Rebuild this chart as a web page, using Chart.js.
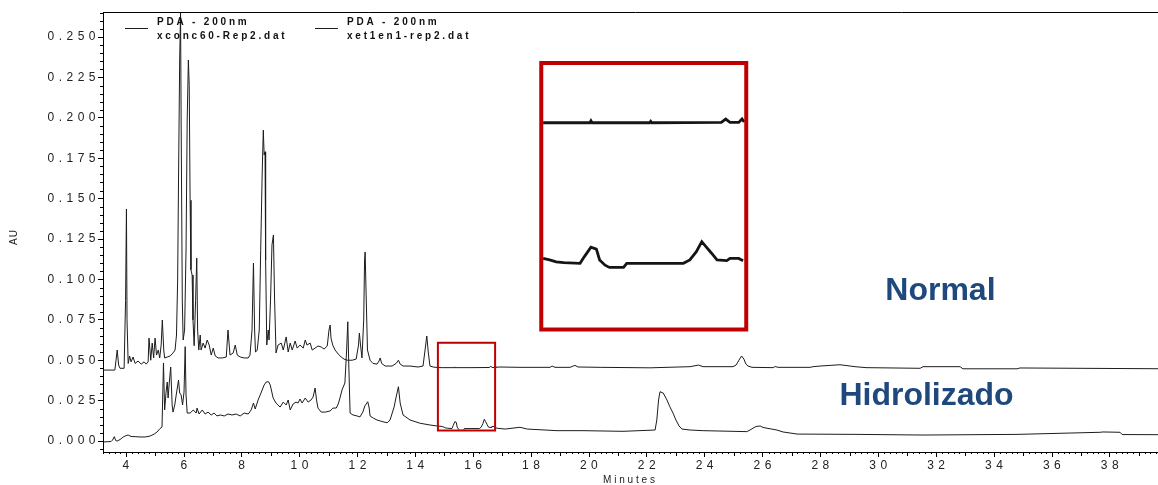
<!DOCTYPE html>
<html>
<head>
<meta charset="utf-8">
<script src="https://cdn.jsdelivr.net/npm/chart.js@4.4.1/dist/chart.umd.min.js"></script>
<style>
  html, body { margin: 0; padding: 0; background: #fff; overflow: hidden; }
  #wrap { position: relative; width: 1180px; height: 485px; }
</style>
</head>
<body>
<div id="wrap"><canvas id="chromChart"></canvas></div>
<script>
// Retention time (min) and absorbance (AU) for both runs, PDA 200 nm
const normalTime = [
  3.205, 3.61, 3.65, 3.69, 3.74, 3.79, 3.93, 3.98, 4.01, 4.03, 4.07, 4.12, 4.17, 4.24, 4.31, 4.41,
  4.52, 4.62, 4.69, 4.76, 4.79, 4.85, 4.90, 4.95, 5.00, 5.05, 5.11, 5.16, 5.21, 5.25, 5.30, 5.33,
  5.42, 5.52, 5.62, 5.69, 5.74, 5.78, 5.81, 5.85, 5.88, 5.90, 5.94, 5.97, 6.02, 6.07, 6.11, 6.15,
  6.18, 6.21, 6.24, 6.28, 6.31, 6.35, 6.40, 6.44, 6.47, 6.51, 6.56, 6.59, 6.66, 6.73, 6.80, 6.87,
  6.94, 7.01, 7.08, 7.18, 7.32, 7.46, 7.52, 7.59, 7.70, 7.77, 7.84, 7.94, 8.08, 8.22, 8.28, 8.35,
  8.40, 8.44, 8.47, 8.53, 8.60, 8.65, 8.70, 8.74, 8.77, 8.80, 8.82, 8.86, 8.91, 8.94, 8.99, 9.04,
  9.09, 9.13, 9.18, 9.25, 9.36, 9.43, 9.53, 9.60, 9.67, 9.74, 9.84, 9.91, 10.01, 10.12, 10.19, 10.25,
  10.36, 10.43, 10.53, 10.63, 10.74, 10.84, 10.95, 11.01, 11.05, 11.08, 11.14, 11.22, 11.33, 11.43, 11.53, 11.64,
  11.81, 11.95, 12.03, 12.06, 12.10, 12.15, 12.21, 12.24, 12.26, 12.29, 12.34, 12.43, 12.53, 12.67, 12.74, 12.78,
  12.83, 12.95, 13.19, 13.33, 13.41, 13.47, 13.57, 13.81, 14.09, 14.26, 14.33, 14.39, 14.44, 14.50, 14.61, 14.75,
  14.92, 15.35, 15.36, 15.37, 15.90, 15.91, 15.92, 16.56, 16.60, 16.64, 16.72, 16.75, 16.77, 16.92, 17.61, 18.65,
  18.72, 18.82, 19.34, 19.45, 19.51, 19.62, 20.38, 22.11, 23.49, 23.78, 23.94, 24.97, 25.08, 25.18, 25.27, 25.35,
  25.42, 25.49, 25.63, 26.36, 26.43, 26.53, 27.64, 27.74, 27.98, 28.33, 28.67, 29.02, 29.19, 29.57, 31.44, 31.54,
  32.82, 32.92, 34.79, 34.89, 40.0
];
const normalAU = [
  0.0439, 0.0439, 0.0500, 0.0563, 0.0470, 0.0450, 0.0450, 0.0870, 0.1436, 0.0750, 0.0480, 0.0526, 0.0490, 0.0520, 0.0480, 0.0495,
  0.0476, 0.0490, 0.0476, 0.0490, 0.0637, 0.0500, 0.0606, 0.0514, 0.0637, 0.0532, 0.0563, 0.0514, 0.0594, 0.0749, 0.0563, 0.0514,
  0.0520, 0.0526, 0.0545, 0.0563, 0.0656, 0.0996, 0.1615, 0.2358, 0.2650, 0.1986, 0.0873, 0.0625, 0.0687, 0.1182, 0.1986, 0.2358,
  0.2200, 0.1490, 0.1060, 0.1027, 0.0750, 0.0590, 0.0870, 0.1132, 0.0687, 0.0563, 0.0656, 0.0563, 0.0606, 0.0575, 0.0625, 0.0594,
  0.0532, 0.0575, 0.0526, 0.0514, 0.0514, 0.0520, 0.0687, 0.0532, 0.0545, 0.0594, 0.0532, 0.0520, 0.0514, 0.0514, 0.0532, 0.0687,
  0.1101, 0.0687, 0.0550, 0.0563, 0.0687, 0.1180, 0.1646, 0.1924, 0.1770, 0.1790, 0.1120, 0.0594, 0.0687, 0.0625, 0.0873, 0.1213,
  0.1275, 0.0873, 0.0545, 0.0594, 0.0606, 0.0563, 0.0644, 0.0551, 0.0606, 0.0563, 0.0619, 0.0575, 0.0594, 0.0575, 0.0625, 0.0594,
  0.0606, 0.0563, 0.0575, 0.0588, 0.0582, 0.0569, 0.0588, 0.0687, 0.0718, 0.0637, 0.0594, 0.0563, 0.0538, 0.0520, 0.0507, 0.0500,
  0.0500, 0.0507, 0.0594, 0.0668, 0.0594, 0.0514, 0.0749, 0.1120, 0.1170, 0.0934, 0.0563, 0.0500, 0.0480, 0.0476, 0.0495, 0.0514,
  0.0480, 0.0464, 0.0464, 0.0480, 0.0500, 0.0476, 0.0464, 0.0464, 0.0458, 0.0464, 0.0563, 0.0650, 0.0551, 0.0464, 0.0458, 0.0455,
  0.0454, 0.0454, 0.0459, 0.0454, 0.0454, 0.0458, 0.0454, 0.0455, 0.0464, 0.0455, 0.0455, 0.0464, 0.0456, 0.0458, 0.0456, 0.0456,
  0.0464, 0.0456, 0.0456, 0.0464, 0.0468, 0.0458, 0.0456, 0.0453, 0.0460, 0.0470, 0.0460, 0.0460, 0.0470, 0.0501, 0.0526, 0.0507,
  0.0476, 0.0464, 0.0456, 0.0454, 0.0461, 0.0456, 0.0456, 0.0460, 0.0464, 0.0468, 0.0472, 0.0464, 0.0460, 0.0454, 0.0450, 0.0460,
  0.0460, 0.0447, 0.0447, 0.0452, 0.0447
];

const hidroTime = [
  3.205, 3.48, 3.53, 3.59, 3.64, 3.69, 3.79, 3.90, 4.00, 4.07, 4.17, 4.31, 4.48, 4.66, 4.83, 4.97,
  5.07, 5.17, 5.24, 5.29, 5.33, 5.38, 5.42, 5.45, 5.49, 5.54, 5.59, 5.62, 5.68, 5.73, 5.81, 5.85,
  5.90, 5.95, 6.00, 6.04, 6.07, 6.11, 6.21, 6.32, 6.42, 6.45, 6.52, 6.63, 6.73, 6.83, 6.94, 7.04,
  7.14, 7.25, 7.39, 7.52, 7.66, 7.80, 7.94, 8.08, 8.22, 8.32, 8.40, 8.46, 8.56, 8.66, 8.77, 8.84,
  8.92, 8.98, 9.08, 9.18, 9.32, 9.43, 9.53, 9.60, 9.67, 9.77, 9.87, 9.94, 10.01, 10.08, 10.19, 10.29,
  10.39, 10.46, 10.53, 10.58, 10.63, 10.74, 10.88, 11.05, 11.15, 11.26, 11.33, 11.39, 11.46, 11.56, 11.62, 11.66,
  11.69, 11.74, 11.84, 11.98, 12.08, 12.18, 12.25, 12.35, 12.40, 12.43, 12.54, 12.67, 12.78, 12.88, 13.02, 13.12,
  13.26, 13.33, 13.41, 13.47, 13.57, 13.81, 14.16, 14.50, 14.75, 14.92, 14.98, 15.04, 15.11, 15.26, 15.30, 15.36,
  15.41, 15.44, 15.49, 15.53, 15.66, 15.69, 16.21, 16.27, 16.33, 16.38, 16.42, 16.47, 16.52, 16.61, 16.64, 16.72,
  16.76, 16.82, 17.10, 17.61, 17.86, 18.89, 19.79, 21.17, 22.28, 22.34, 22.40, 22.45, 22.56, 22.69, 22.79, 22.90,
  23.00, 23.11, 23.21, 23.49, 23.94, 25.45, 25.56, 25.67, 25.77, 25.91, 26.01, 26.15, 26.49, 26.70, 27.19, 29.26,
  31.54, 34.79, 37.66, 37.76, 38.35, 38.42, 40.0
];
const hidroAU = [
  -0.0006, -0.0003, 0.0006, 0.0027, 0.0003, 0.0000, 0.0009, 0.0025, 0.0034, 0.0037, 0.0028, 0.0027, 0.0025, 0.0025, 0.0031, 0.0043,
  0.0056, 0.0077, 0.0087, 0.0483, 0.0192, 0.0303, 0.0365, 0.0266, 0.0359, 0.0458, 0.0223, 0.0179, 0.0223, 0.0285, 0.0377, 0.0297,
  0.0285, 0.0223, 0.0303, 0.0584, 0.0285, 0.0173, 0.0173, 0.0192, 0.0173, 0.0204, 0.0167, 0.0192, 0.0167, 0.0179, 0.0161, 0.0173,
  0.0155, 0.0161, 0.0155, 0.0167, 0.0161, 0.0167, 0.0155, 0.0173, 0.0167, 0.0192, 0.0235, 0.0198, 0.0254, 0.0297, 0.0347, 0.0365,
  0.0367, 0.0347, 0.0266, 0.0235, 0.0210, 0.0241, 0.0223, 0.0254, 0.0192, 0.0229, 0.0241, 0.0235, 0.0260, 0.0235, 0.0266, 0.0241,
  0.0254, 0.0272, 0.0328, 0.0254, 0.0204, 0.0179, 0.0179, 0.0186, 0.0204, 0.0204, 0.0229, 0.0266, 0.0316, 0.0359, 0.0563, 0.0738,
  0.0500, 0.0173, 0.0161, 0.0155, 0.0149, 0.0179, 0.0217, 0.0243, 0.0204, 0.0155, 0.0142, 0.0130, 0.0124, 0.0119, 0.0113, 0.0130,
  0.0210, 0.0272, 0.0336, 0.0235, 0.0161, 0.0130, 0.0110, 0.0099, 0.0093, 0.0090, 0.0086, 0.0081, 0.0079, 0.0077, 0.0095, 0.0120,
  0.0115, 0.0086, 0.0072, 0.0066, 0.0066, 0.0077, 0.0077, 0.0086, 0.0108, 0.0135, 0.0121, 0.0104, 0.0086, 0.0084, 0.0090, 0.0090,
  0.0084, 0.0079, 0.0074, 0.0085, 0.0074, 0.0064, 0.0064, 0.0060, 0.0068, 0.0130, 0.0254, 0.0305, 0.0297, 0.0254, 0.0212, 0.0173,
  0.0130, 0.0093, 0.0074, 0.0068, 0.0064, 0.0058, 0.0068, 0.0080, 0.0090, 0.0093, 0.0084, 0.0079, 0.0068, 0.0056, 0.0043, 0.0041,
  0.0037, 0.0041, 0.0054, 0.0056, 0.0054, 0.0040, 0.0039
];

const detector = ['PDA - 200nm', 'PDA - 200nm'];
const runFiles = ['xconc60-Rep2.dat', 'xet1en1-rep2.dat'];
const sampleNames = ['Normal', 'Hidrolizado'];

// Magnified window (minutes) shown in the enlarged panel
const ZOOM_FROM = 14.9;
const ZOOM_TO = 16.79;

function toPoints(times, values) {
  return times.map((t, i) => ({ x: t, y: values[i] }));
}
function zoomSlice(points) {
  return points.filter(p => p.x >= ZOOM_FROM && p.x <= ZOOM_TO);
}

const normalPts = toPoints(normalTime, normalAU);
const hidroPts = toPoints(hidroTime, hidroAU);

const TRACE_COLOR = '#1c1c1c';
const RED = '#c00000';
const LABEL_BLUE = '#1f497d';

// Outline of the selected region and of the enlarged panel
const selectBox = { x0: 14.774, x1: 16.751, y0: 0.0065, y1: 0.0608 };
const panelBox = { x0: 14.903, x1: 16.789, y0: -0.01006, y1: 0.06143 };
const sampleLabelPos = [{ x: 32.14, y: 0.0873 }, { x: 31.66, y: 0.0223 }];

Chart.defaults.font.family = '"Liberation Sans", Arial, sans-serif';

const letterSpacing = {
  id: 'letterSpacing',
  beforeUpdate(chart) { chart.ctx.letterSpacing = '4.5px'; },
  beforeDraw(chart) { chart.ctx.letterSpacing = '4.5px'; }
};

const frameAndMinorTicks = {
  id: 'frameAndMinorTicks',
  afterDraw(chart) {
    const { ctx, chartArea: a } = chart;
    const xs = chart.scales.x, ys = chart.scales.y;
    ctx.save();
    ctx.strokeStyle = '#000';
    ctx.lineWidth = 1;
    ctx.beginPath();
    // top edge of the plot frame
    const top = Math.round(a.top) + 0.5;
    ctx.moveTo(a.left, top);
    ctx.lineTo(a.right, top);
    // y minor ticks every 0.005 AU
    for (let k = Math.ceil(ys.min / 0.005); k <= Math.floor(ys.max / 0.005); k++) {
      if (k % 5 === 0) continue;
      const py = Math.round(ys.getPixelForValue(k * 0.005)) + 0.5;
      ctx.moveTo(a.left - 3, py);
      ctx.lineTo(a.left, py);
    }
    // x minor ticks every 0.2 min, longer at odd minutes
    for (let k = Math.ceil(xs.min / 0.2); k <= Math.floor(xs.max / 0.2); k++) {
      if (k % 10 === 0) continue;
      const px = Math.round(xs.getPixelForValue(k * 0.2)) + 0.5;
      const len = k % 5 === 0 ? 4 : 2;
      ctx.moveTo(px, a.bottom);
      ctx.lineTo(px, a.bottom + len);
    }
    ctx.stroke();
    ctx.restore();
  }
};

const insetBlur = {
  id: 'insetBlur',
  beforeDatasetDraw(chart, args) {
    if (args.index >= 2) chart.ctx.filter = 'blur(0.6px)';
  },
  afterDatasetDraw(chart, args) {
    if (args.index >= 2) chart.ctx.filter = 'none';
  }
};

const annotations = {
  id: 'annotations',
  afterDatasetsDraw(chart) {
    const { ctx, chartArea: a } = chart;
    const xs = chart.scales.x, ys = chart.scales.y;
    const xi = chart.scales.xi, yi = chart.scales.yi;
    ctx.save();

    // selected region
    ctx.strokeStyle = RED;
    ctx.lineWidth = 2;
    ctx.strokeRect(xs.getPixelForValue(selectBox.x0), ys.getPixelForValue(selectBox.y1),
      xs.getPixelForValue(selectBox.x1) - xs.getPixelForValue(selectBox.x0),
      ys.getPixelForValue(selectBox.y0) - ys.getPixelForValue(selectBox.y1));

    // enlarged panel
    ctx.lineWidth = 4;
    ctx.strokeRect(xi.getPixelForValue(panelBox.x0), yi.getPixelForValue(panelBox.y1),
      xi.getPixelForValue(panelBox.x1) - xi.getPixelForValue(panelBox.x0),
      yi.getPixelForValue(panelBox.y0) - yi.getPixelForValue(panelBox.y1));

    // sample names
    ctx.letterSpacing = '0px';
    ctx.fillStyle = LABEL_BLUE;
    ctx.font = 'bold 32px "Liberation Sans", Arial, sans-serif';
    ctx.textAlign = 'center';
    ctx.textBaseline = 'alphabetic';
    sampleNames.forEach((name, i) => {
      ctx.fillText(name, xs.getPixelForValue(sampleLabelPos[i].x), ys.getPixelForValue(sampleLabelPos[i].y));
    });

    // legend: line sample + detector + file name
    ctx.letterSpacing = '2.8px';
    ctx.font = 'bold 10px "Liberation Sans", Arial, sans-serif';
    ctx.fillStyle = '#111';
    ctx.textAlign = 'left';
    const starts = [a.left + 22, a.left + 212];
    starts.forEach((x0, i) => {
      const ds = chart.data.datasets[i];
      ctx.strokeStyle = ds.borderColor;
      ctx.lineWidth = 1;
      ctx.beginPath();
      ctx.moveTo(x0, a.top + 16.5);
      ctx.lineTo(x0 + 23, a.top + 16.5);
      ctx.stroke();
      ctx.fillText(detector[i], x0 + 32, a.top + 13);
      ctx.fillText(runFiles[i], x0 + 32, a.top + 26.5);
    });

    // axis titles
    ctx.fillStyle = '#222';
    ctx.font = '10px "Liberation Sans", Arial, sans-serif';
    ctx.textAlign = 'center';
    ctx.textBaseline = 'middle';
    ctx.letterSpacing = '2.8px';
    ctx.fillText('Minutes', (a.left + a.right) / 2 - 5, a.bottom + 28);
    ctx.letterSpacing = '1px';
    ctx.translate(14, (a.top + a.bottom) / 2 + 5);
    ctx.rotate(-Math.PI / 2);
    ctx.fillText('AU', 0, 0);
    ctx.restore();
  }
};

const traceStyle = { borderWidth: 1, pointRadius: 0, tension: 0, fill: false };

new Chart(document.getElementById('chromChart'), {
  type: 'line',
  data: {
    datasets: [
      { label: runFiles[0], data: normalPts, borderColor: TRACE_COLOR, xAxisID: 'x', yAxisID: 'y', ...traceStyle },
      { label: runFiles[1], data: hidroPts, borderColor: TRACE_COLOR, xAxisID: 'x', yAxisID: 'y', ...traceStyle },
      { label: runFiles[0] + ' (zoom)', data: zoomSlice(normalPts), borderColor: '#151515', xAxisID: 'xi', yAxisID: 'yi',
        ...traceStyle, borderWidth: 2.8 },
      { label: runFiles[1] + ' (zoom)', data: zoomSlice(hidroPts), borderColor: '#151515', xAxisID: 'xi', yAxisID: 'yi',
        ...traceStyle, borderWidth: 2.8 }
    ]
  },
  options: {
    responsive: true,
    maintainAspectRatio: false,
    animation: false,
    parsing: false,
    layout: { padding: { top: 12, right: 12, left: 0, bottom: 0 } },
    plugins: { legend: { display: false }, tooltip: { enabled: false } },
    scales: {
      x: {
        type: 'linear',
        position: 'bottom',
        min: 3.2,
        max: 40,
        afterFit(scale) { scale.height = 33; },
        grid: { drawOnChartArea: false, tickLength: 5, color: '#000' },
        border: { color: '#000' },
        ticks: {
          stepSize: 2,
          includeBounds: false,
          autoSkip: false,
          maxRotation: 0,
          padding: 1,
          labelOffset: 2,
          color: '#222',
          font: { size: 12 },
          callback: v => String(Math.round(v))
        }
      },
      y: {
        type: 'linear',
        position: 'left',
        min: -0.0068,
        max: 0.2655,
        afterFit(scale) { scale.width = 103; },
        grid: { drawOnChartArea: false, tickLength: 5, color: '#000' },
        border: { color: '#000' },
        ticks: {
          stepSize: 0.025,
          includeBounds: false,
          autoSkip: false,
          padding: -2,
          color: '#222',
          font: { size: 12 },
          callback: v => v.toFixed(3)
        }
      },
      // scales for the enlarged panel
      xi: { type: 'linear', axis: 'x', position: 'bottom', display: false, min: 10.8706, max: 20.668 },
      yi: { type: 'linear', axis: 'y', position: 'left', display: false, min: -0.04292, max: 0.07511 }
    }
  },
  plugins: [letterSpacing, frameAndMinorTicks, insetBlur, annotations]
});
</script>
</body>
</html>
